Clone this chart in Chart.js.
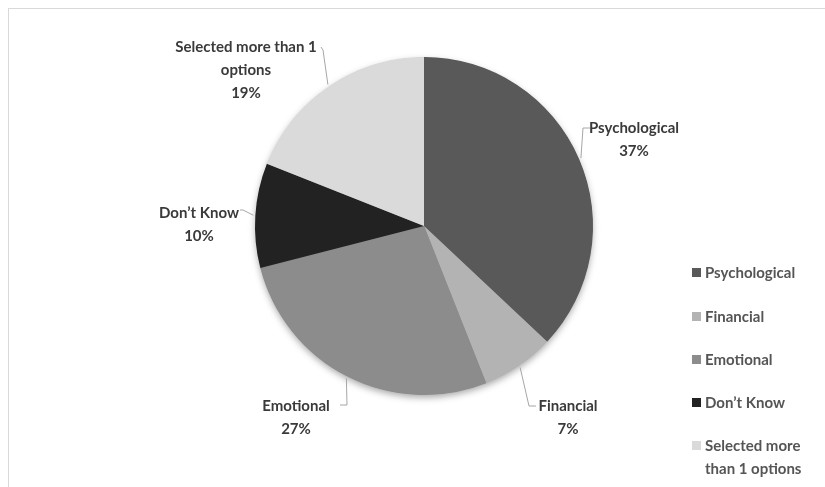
<!DOCTYPE html>
<html>
<head>
<meta charset="utf-8">
<script src="https://cdn.jsdelivr.net/npm/chart.js@4/dist/chart.umd.min.js"></script>
<style>
  html, body { margin: 0; padding: 0; background: #fff; overflow: hidden; }
  #wrap { position: relative; width: 825px; height: 487px; }
  #frame { position: absolute; left: 8px; top: 8px; width: 840px; height: 500px;
           border-left: 1px solid #d9d9d9; border-top: 1px solid #d9d9d9; }
  canvas { position: absolute; left: 0; top: 0; }
</style>
</head>
<body>
<div id="wrap">
  <div id="frame"></div>
  <canvas id="c" width="825" height="487"></canvas>
</div>
<script>
// Survey answers and their shares (%)
const categories = ['Psychological', 'Financial', 'Emotional', 'Don\u2019t Know', 'Selected more than 1 options'];
const shares = [37, 7, 27, 10, 19];
const sliceColors = ['#595959', '#b3b3b3', '#8c8c8c', '#222222', '#dadada'];

// Wrapped text for the slice callouts and the legend entries
const calloutNames = [['Psychological'], ['Financial'], ['Emotional'], ['Don\u2019t Know'], ['Selected more than 1', 'options']];
const legendNames = [['Psychological'], ['Financial'], ['Emotional'], ['Don\u2019t Know'], ['Selected more', 'than 1 options']];

// Where each callout sits: leader elbow, leader end, text centre and first line
const calloutLayout = [
  { elbow: [583, 128], end: [590, 128], cx: 634, y: 128 },
  { elbow: [529, 406], end: [536, 406], cx: 568, y: 406 },
  { elbow: [347, 405], end: [340, 405], cx: 296, y: 406 },
  { elbow: [243, 210], end: [240, 210], cx: 199, y: 213 },
  { elbow: [323, 50],  end: [321, 47],  cx: 246, y: 47 }
];

const labelFont = 'bold 15px Lato, "Open Sans", sans-serif';
const lineGap = 23;

// Soft drop shadow under the whole pie
const pieShadow = {
  id: 'pieShadow',
  beforeDatasetsDraw(chart) {
    const arc = chart.getDatasetMeta(0).data[0];
    if (!arc) return;
    const ctx = chart.ctx;
    ctx.save();
    ctx.shadowColor = 'rgba(0,0,0,0.35)';
    ctx.shadowBlur = 7;
    ctx.shadowOffsetY = 3;
    ctx.fillStyle = '#888';
    ctx.beginPath();
    ctx.arc(arc.x, arc.y, arc.outerRadius - 0.5, 0, Math.PI * 2);
    ctx.fill();
    ctx.restore();
  }
};

// Outside labels with leader lines
const callouts = {
  id: 'callouts',
  afterDatasetsDraw(chart) {
    const ctx = chart.ctx;
    const meta = chart.getDatasetMeta(0);
    ctx.save();
    meta.data.forEach((arc, i) => {
      const lay = calloutLayout[i];
      const mid = (arc.startAngle + arc.endAngle) / 2;
      const r = arc.outerRadius + 2;
      const sx = arc.x + Math.cos(mid) * r;
      const sy = arc.y + Math.sin(mid) * r;
      ctx.strokeStyle = '#a6a6a6';
      ctx.lineWidth = 1;
      ctx.beginPath();
      ctx.moveTo(sx, sy);
      ctx.lineTo(lay.elbow[0], lay.elbow[1]);
      ctx.lineTo(lay.end[0], lay.end[1]);
      ctx.stroke();

      ctx.fillStyle = '#3a3a3a';
      ctx.font = labelFont;
      ctx.textAlign = 'center';
      ctx.textBaseline = 'middle';
      const lines = calloutNames[i].concat([shares[i] + '%']);
      lines.forEach((t, k) => ctx.fillText(t, lay.cx, lay.y + k * lineGap));
    });
    ctx.restore();
  }
};

// Legend column on the right
const sideLegend = {
  id: 'sideLegend',
  afterDraw(chart) {
    const ctx = chart.ctx;
    const rows = [273, 317, 360, 403, 446];
    ctx.save();
    ctx.font = 'bold 15px Lato, "Open Sans", sans-serif';
    ctx.textAlign = 'left';
    ctx.textBaseline = 'middle';
    chart.data.labels.forEach((lab, i) => {
      const y = rows[i];
      ctx.fillStyle = chart.data.datasets[0].backgroundColor[i];
      ctx.fillRect(692, y - 5, 9, 9);
      ctx.fillStyle = '#555555';
      legendNames[i].forEach((t, k) => ctx.fillText(t, 705, y + k * 23));
    });
    ctx.restore();
  }
};

new Chart(document.getElementById('c'), {
  type: 'pie',
  data: {
    labels: categories,
    datasets: [{
      data: shares,
      backgroundColor: sliceColors,
      borderWidth: 0
    }]
  },
  options: {
    responsive: false,
    animation: false,
    layout: { padding: { left: 255, right: 232, top: 57, bottom: 92 } },
    plugins: {
      legend: { display: false },
      tooltip: { enabled: false }
    }
  },
  plugins: [pieShadow, callouts, sideLegend]
});
</script>
</body>
</html>
